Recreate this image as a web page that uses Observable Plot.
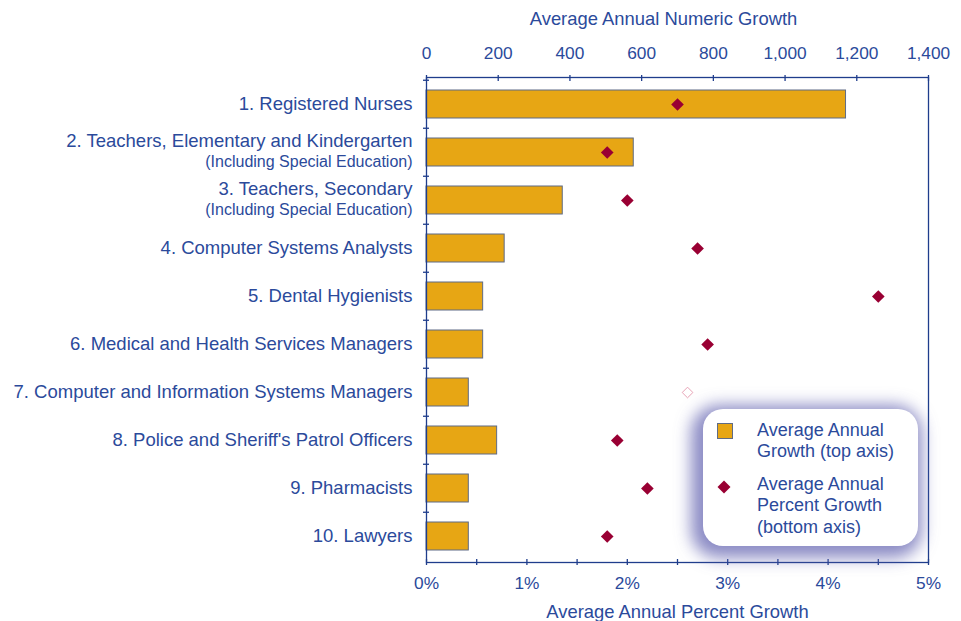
<!DOCTYPE html>
<html>
<head>
<meta charset="utf-8">
<script src="https://cdn.jsdelivr.net/npm/d3@7"></script>
<script src="https://cdn.jsdelivr.net/npm/@observablehq/plot@0.6"></script>
<style>
  html, body { margin: 0; padding: 0; background: #fff; }
  #wrap { position: relative; width: 961px; height: 621px; overflow: hidden; font-family: "Liberation Sans", Arial, sans-serif; }
  #legend { position: absolute; left: 703px; top: 409px; width: 215px; height: 137px; box-sizing: border-box;
            background: #fff; border-radius: 20px; box-shadow: -4px 4px 16px 8px rgba(95, 95, 175, 0.72);
            color: #2b4a9b; font-size: 18px; line-height: 21.3px; }
  #legend .sw { position: absolute; left: 14px; top: 14px; width: 16px; height: 16px; box-sizing: border-box; background: #E7A614; border: 1px solid #5f6b85; }
  #legend .dm { position: absolute; left: 14px; top: 71px; }
  #legend .t1 { position: absolute; left: 54px; top: 11px; white-space: nowrap; }
  #legend .t2 { position: absolute; left: 54px; top: 65px; white-space: nowrap; }
</style>
</head>
<body>
<div id="wrap">
  <div id="chart"></div>
  <div id="legend">
    <div class="sw"></div>
    <div class="t1">Average Annual<br>Growth (top axis)</div>
    <svg class="dm" width="14" height="14" viewBox="-7 -7 14 14"><path d="M0,-6.5L6.5,0L0,6.5L-6.5,0Z" fill="#990033"/></svg>
    <div class="t2">Average Annual<br>Percent Growth<br>(bottom axis)</div>
  </div>
</div>
<script>
// ---- data ----
const occupations = [
  "1. Registered Nurses",
  "2. Teachers, Elementary and Kindergarten",
  "3. Teachers, Secondary",
  "4. Computer Systems Analysts",
  "5. Dental Hygienists",
  "6. Medical and Health Services Managers",
  "7. Computer and Information Systems Managers",
  "8. Police and Sheriff's Patrol Officers",
  "9. Pharmacists",
  "10. Lawyers"
];
const subLabels = ["", "(Including Special Education)", "(Including Special Education)", "", "", "", "", "", "", ""];
const numericGrowth = [1170, 578, 380, 218, 158, 158, 118, 197, 118, 118];
const percentGrowth = [2.5, 1.8, 2.0, 2.7, 4.5, 2.8, 2.6, 1.9, 2.2, 1.8];
const numericTicks = [0, 200, 400, 600, 800, 1000, 1200, 1400];
const percentTicks = [0, 1, 2, 3, 4, 5];
const percentMinorTicks = [0, 0.5, 1, 1.5, 2, 2.5, 3, 3.5, 4, 4.5, 5];
const numericMax = 1400;
const percentMax = 5;

// ---- build ----
const rows = occupations.map((label, i) => ({
  rank: i + 1, label, sub: subLabels[i], num: numericGrowth[i], pct: percentGrowth[i]
}));
const pctToNum = p => p * numericMax / percentMax;
const numToPct = n => n * percentMax / numericMax;

const W = 961, H = 621;
const mTop = 77, mBottom = 59, mLeft = 426, mRight = 33;
const step = (H - mTop - mBottom) / rows.length;

const textColor = "#2b4a9b";
const axisColor = "#1f3d8c";
const barFill = "#E7A614";
const barStroke = "#5f6b85";
const diamondColor = "#990033";
const blank = () => "";

const chart = Plot.plot({
  width: W, height: H,
  marginTop: mTop, marginBottom: mBottom, marginLeft: mLeft, marginRight: mRight,
  style: { fontFamily: "'Liberation Sans', Arial, sans-serif", fontSize: "17px", color: textColor, background: "white", overflow: "visible" },
  x: { domain: [0, numericMax], axis: null },
  y: { domain: occupations, padding: 0, axis: null },
  marks: [
    Plot.barX(rows, { y: "label", x: "num", fill: barFill, stroke: barStroke, strokeWidth: 1, insetTop: 10, insetBottom: 10 }),
    Plot.frame({ stroke: axisColor, strokeWidth: 1.3 }),
    // top axis (numeric)
    Plot.axisX({ anchor: "top", ticks: numericTicks, tickFormat: d3.format(","), tickSize: 0, tickPadding: 19, fontSize: 17.3, fill: textColor, label: null }),
    Plot.axisX({ anchor: "top", ticks: numericTicks, tickFormat: blank, tickSize: 6, dy: 3, stroke: axisColor, strokeWidth: 1.3, label: null }),
    // bottom axis (percent)
    Plot.axisX({ anchor: "bottom", ticks: percentTicks.map(pctToNum), tickFormat: d => numToPct(d) + "%", tickSize: 0, tickPadding: 14, fontSize: 17.3, fill: textColor, label: null }),
    Plot.axisX({ anchor: "bottom", ticks: percentMinorTicks.map(pctToNum), tickFormat: blank, tickSize: 6, dy: -3, stroke: axisColor, strokeWidth: 1.3, label: null }),
    // left row separators
    Plot.axisY({ anchor: "left", tickFormat: blank, tickSize: 6, dx: 3, dy: -step / 2, stroke: axisColor, strokeWidth: 1.3, label: null }),
    // axis titles
    Plot.text(["Average Annual Numeric Growth"], { frameAnchor: "top", dx: -14, dy: -58, lineAnchor: "middle", fontSize: 18.4, fill: textColor }),
    Plot.text(["Average Annual Percent Growth"], { frameAnchor: "bottom", dy: 50, lineAnchor: "middle", fontSize: 18.4, fill: textColor }),
    // row labels
    Plot.text(rows.filter(d => !d.sub), { y: "label", text: "label", frameAnchor: "left", textAnchor: "end", dx: -14, fontSize: 18.5, fill: textColor }),
    Plot.text(rows.filter(d => d.sub), { y: "label", text: "label", frameAnchor: "left", textAnchor: "end", dx: -14, dy: -11, fontSize: 18.5, fill: textColor }),
    Plot.text(rows.filter(d => d.sub), { y: "label", text: "sub", frameAnchor: "left", textAnchor: "end", dx: -14, dy: 9, fontSize: 16, fill: textColor }),
    // percent diamonds
    Plot.dot(rows.filter(d => d.rank !== 7), { y: "label", x: d => pctToNum(d.pct), symbol: "diamond2", r: 5.7, fill: diamondColor, stroke: "none" }),
    Plot.dot(rows.filter(d => d.rank === 7), { y: "label", x: d => pctToNum(d.pct), symbol: "diamond2", r: 4.8, fill: "white", stroke: "#e8a3b6", strokeWidth: 1 })
  ]
});
document.getElementById("chart").appendChild(chart);
</script>
</body>
</html>
